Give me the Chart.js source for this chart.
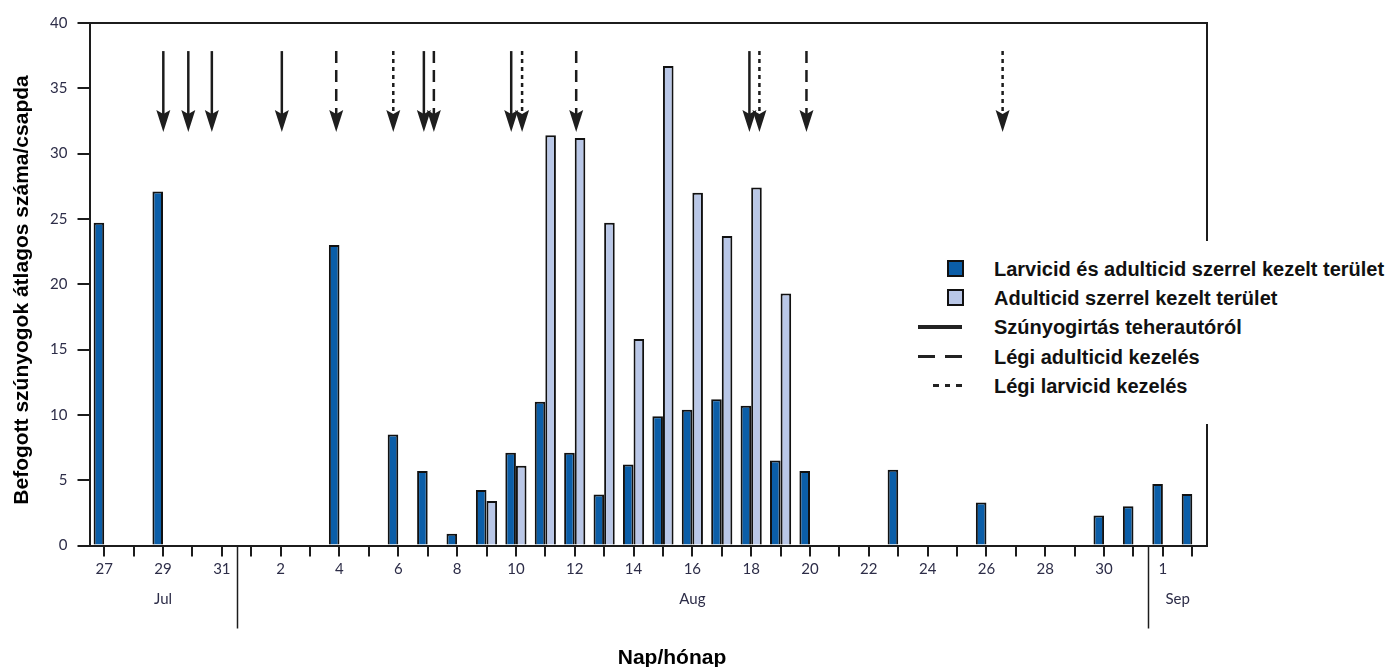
<!DOCTYPE html>
<html>
<head>
<meta charset="utf-8">
<script src="https://cdn.jsdelivr.net/npm/chart.js@4.4.1/dist/chart.umd.min.js"></script>
<style>
  body { margin: 0; background: #fff; }
  #marco { position: relative; width: 1388px; height: 667px; }
  #leyenda { position: absolute; left: 905px; top: 241px; width: 483px; height: 183px; background: #fff;
             font: bold 20px "Liberation Sans", Arial, sans-serif; color: #111; }
  .fila { position: absolute; left: 0; width: 483px; height: 28px; line-height: 28px; }
  .txt { position: absolute; left: 89px; top: 0; white-space: nowrap; }
  .cuadro { position: absolute; left: 42px; top: 5px; width: 13px; height: 13px; border: 2px solid #111; }
  .linea { position: absolute; height: 4px; top: 12px; }
</style>
</head>
<body>
<div id="marco">
  <canvas id="myChart" width="1388" height="667"></canvas>
  <div id="leyenda">
    <div class="fila" style="top:14px"><span class="cuadro" style="background:#0b5ea8"></span><span class="txt">Larvicid és adulticid szerrel kezelt terület</span></div>
    <div class="fila" style="top:43px"><span class="cuadro" style="background:#b9c7e7"></span><span class="txt">Adulticid szerrel kezelt terület</span></div>
    <div class="fila" style="top:72px"><span class="linea" style="left:13px;width:44px;background:#222"></span><span class="txt">Szúnyogirtás teherautóról</span></div>
    <div class="fila" style="top:102px"><span class="linea" style="left:13px;width:44px;height:3px;background:linear-gradient(to right,#222 0 17px,transparent 17px 27px,#222 27px 44px)"></span><span class="txt">Légi adulticid kezelés</span></div>
    <div class="fila" style="top:131px"><span class="linea" style="left:28px;width:29px;height:3px;background:repeating-linear-gradient(to right,#222 0 6px,transparent 6px 11.5px)"></span><span class="txt">Légi larvicid kezelés</span></div>
  </div>
</div>
<script>
//DATOS
const dias = ["27", "28", "29", "30", "31",
  "1", "2", "3", "4", "5", "6", "7", "8", "9", "10", "11", "12", "13", "14", "15", "16",
  "17", "18", "19", "20", "21", "22", "23", "24", "25", "26", "27", "28", "29", "30", "31",
  "1", "2"];

const larvicidAdulticid = [24.7, null, 27.1, null, null,
  null, null, null, 23.0, null, 8.5, 5.7, 0.9, 4.25, 7.1, 11.0, 7.1, 3.9, 6.2, 9.9, 10.4,
  11.2, 10.7, 6.5, 5.7, null, null, 5.8, null, null, 3.3, null, null, null, 2.3, 3.0,
  4.7, 3.95];

const csakAdulticid = [null, null, null, null, null,
  null, null, null, null, null, null, null, null, 3.4, 6.1, 31.4, 31.2, 24.7, 15.8, 36.7, 27.0,
  23.7, 27.4, 19.3, null, null, null, null, null, null, null, null, null, null, null, null,
  null, null];

// posiciones de las flechas (indice de dia en el eje)
const teherauto = [2.01, 2.86, 3.66, 6.04, 10.87, 13.84, 21.94];
const legiAdulticid = [7.89, 11.21, 16.05, 23.88];
const legiLarvicid = [9.83, 14.21, 22.28, 30.55];

const yTicks = [0, 5, 10, 15, 20, 25, 30, 35, 40];
const meses = ["Jul", "Aug", "Sep"];
const mesCentro = [2, 20, 36.5];
const mesLimite = [4.5, 35.5];

const yTitulo = "Befogott szúnyogok átlagos száma/csapda";
const xTitulo = "Nap/hónap";

//ESTILO
const FLECHA_ARRIBA = 37.85;
const FLECHA_ABAJO = 33.0;
const PUNTA = 32.5;
const TINTA = "#1c1c1c";
const TEXTO_EJE = "#2d2d48";

const tiposFlecha = [
  { pos: teherauto, dash: [] },
  { pos: legiAdulticid, dash: [12, 7] },
  { pos: legiLarvicid, dash: [4, 4] },
];

//FUNCIONES
function dibujarPunta(ctx, x, y) {
  ctx.beginPath();
  ctx.moveTo(x - 7, y - 11);
  ctx.lineTo(x, y - 7);
  ctx.lineTo(x + 7, y - 11);
  ctx.lineTo(x, y + 11);
  ctx.closePath();
  ctx.fill();
}

const flechas = {
  id: "flechas",
  afterDatasetsDraw(chart) {
    const { ctx } = chart;
    const x2 = chart.scales.x2;
    const y = chart.scales.y;
    ctx.save();
    ctx.strokeStyle = TINTA;
    ctx.fillStyle = "#1e1e1e";
    ctx.lineWidth = 2.5;
    tiposFlecha.forEach((t) => {
      t.pos.forEach((p) => {
        const px = x2.getPixelForValue(p);
        ctx.setLineDash(t.dash);
        ctx.beginPath();
        ctx.moveTo(px, y.getPixelForValue(FLECHA_ARRIBA));
        ctx.lineTo(px, y.getPixelForValue(FLECHA_ABAJO));
        ctx.stroke();
        ctx.setLineDash([]);
        dibujarPunta(ctx, px, y.getPixelForValue(PUNTA));
      });
    });
    ctx.restore();
  },
};

const decoracion = {
  id: "decoracion",
  afterDraw(chart) {
    const { ctx, chartArea: a } = chart;
    const x2 = chart.scales.x2;
    ctx.save();
    ctx.strokeStyle = TINTA;
    ctx.lineWidth = 2;
    ctx.beginPath();
    ctx.moveTo(a.left, a.top);
    ctx.lineTo(a.right, a.top);
    ctx.lineTo(a.right, a.bottom);
    ctx.stroke();

    ctx.lineWidth = 1.5;
    mesLimite.forEach((v) => {
      const px = Math.round(x2.getPixelForValue(v)) + 0.5;
      ctx.beginPath();
      ctx.moveTo(px, a.bottom);
      ctx.lineTo(px, a.bottom + 83);
      ctx.stroke();
    });

    ctx.fillStyle = TEXTO_EJE;
    ctx.font = "15px Lato";
    ctx.textAlign = "center";
    ctx.textBaseline = "middle";
    meses.forEach((m, i) => {
      ctx.fillText(m, x2.getPixelForValue(mesCentro[i]), a.bottom + 54);
    });

    ctx.fillStyle = "#000";
    ctx.font = 'bold 21px "Liberation Sans"';
    ctx.textBaseline = "alphabetic";
    ctx.fillText(xTitulo, 672, 664);
    ctx.translate(28, 290);
    ctx.rotate(-Math.PI / 2);
    ctx.fillText(yTitulo, 0, 0);
    ctx.restore();
  },
};

const data = {
  labels: dias,
  datasets: [
    {
      label: "Larvicid és adulticid szerrel kezelt terület",
      data: larvicidAdulticid,
      backgroundColor: "#0b5ea8",
      borderColor: "#111",
      borderWidth: 2,
      barPercentage: 1,
      categoryPercentage: 0.72,
    },
    {
      label: "Adulticid szerrel kezelt terület",
      data: csakAdulticid,
      backgroundColor: "#b9c7e7",
      borderColor: "#111",
      borderWidth: 2,
      barPercentage: 1,
      categoryPercentage: 0.72,
    },
  ],
};

const config = {
  type: "bar",
  data: data,
  plugins: [flechas, decoracion],
  options: {
    responsive: false,
    animation: false,
    layout: { padding: { top: 23, right: 181, left: 0, bottom: 0 } },
    plugins: {
      legend: { display: false },
      tooltip: { enabled: false },
    },
    scales: {
      x: {
        offset: true,
        afterFit: (s) => { s.height = 121.5; },
        grid: { offset: false, drawOnChartArea: false, tickLength: 11, color: TINTA, lineWidth: 2 },
        border: { color: TINTA, width: 2 },
        ticks: {
          autoSkip: false,
          maxRotation: 0,
          padding: 4,
          color: TEXTO_EJE,
          font: { family: "Lato", size: 15 },
          callback: (v, i) => (i % 2 === 0 ? dias[i] : ""),
        },
      },
      x2: { type: "linear", display: false, offset: false, min: -0.5, max: dias.length - 0.5 },
      y: {
        min: 0,
        max: 40,
        afterFit: (s) => { s.width = 89.5; },
        afterBuildTicks: (s) => { s.ticks = yTicks.map((v) => ({ value: v })); },
        grid: { drawOnChartArea: false, tickLength: 12, color: TINTA, lineWidth: 2 },
        border: { color: TINTA, width: 2 },
        ticks: { padding: 10, color: TEXTO_EJE, font: { family: "Lato", size: 15 } },
      },
    },
  },
};

const myChart = new Chart(document.getElementById("myChart"), config);
</script>
</body>
</html>
